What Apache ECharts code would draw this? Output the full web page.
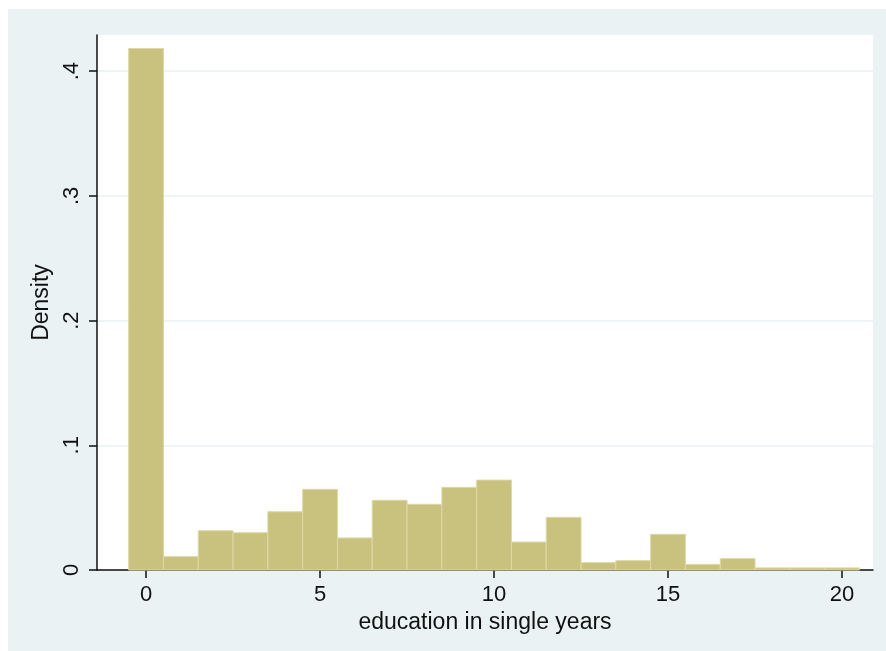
<!DOCTYPE html>
<html>
<head>
<meta charset="utf-8">
<script src="https://cdn.jsdelivr.net/npm/echarts@6/dist/echarts.min.js"></script>
<style>
html,body{margin:0;padding:0;background:#fff;}
#chart{width:886px;height:651px;}
</style>
</head>
<body>
<div id="chart"></div>
<script>
// Histogram bins (centers) and densities
const binCenters = [0,1,2,3,4,5,6,7,8,9,10,11,12,13,14,15,16,17,18,19,20];
const densities = [0.4182,0.0107,0.0315,0.0299,0.0467,0.0647,0.0257,0.0559,0.0527,0.0663,0.0721,0.0224,0.0422,0.0059,0.0075,0.0286,0.0045,0.0091,0.0017,0.0017,0.0017];
const binWidth = 1;
const xTicks = [0,5,10,15,20];
const yTicks = [0,0.1,0.2,0.3,0.4];
const xTitle = 'education in single years';
const yTitle = 'Density';

const chart = echarts.init(document.getElementById('chart'));
const FONT = '"Liberation Sans", Arial, sans-serif';
const data = binCenters.map((c, i) => [c, densities[i]]);

chart.setOption({
  animation: false,
  backgroundColor: '#ffffff',
  graphic: [{
    type: 'rect', z: -10, silent: true,
    shape: {x: 8, y: 9, width: 878, height: 642},
    style: {fill: '#EAF2F3'}
  }],
  grid: {
    left: 97, top: 35, right: 13, bottom: 81,
    show: true, backgroundColor: '#ffffff', borderWidth: 0
  },
  xAxis: {
    type: 'value', min: -1.41, max: 20.89,
    name: xTitle, nameLocation: 'middle', nameGap: 34,
    nameTextStyle: {fontFamily: FONT, fontSize: 23, color: '#111'},
    axisLine: {show: true, onZero: false, lineStyle: {color: '#111', width: 1.5}},
    axisTick: {show: true, length: 8, lineStyle: {color: '#111', width: 1.5}, customValues: xTicks},
    axisLabel: {fontFamily: FONT, fontSize: 22, color: '#111', margin: 14, customValues: xTicks},
    splitLine: {show: false}
  },
  yAxis: {
    type: 'value', min: 0, max: 0.429,
    name: yTitle, nameLocation: 'middle', nameGap: 39, nameRotate: 90,
    nameTextStyle: {fontFamily: FONT, fontSize: 23, color: '#111'},
    axisLine: {show: true, onZero: false, lineStyle: {color: '#111', width: 1.5}},
    axisTick: {show: true, length: 8, lineStyle: {color: '#111', width: 1.5}, customValues: yTicks},
    axisLabel: {
      fontFamily: FONT, fontSize: 22, color: '#111', rotate: 90, margin: 14,
      customValues: yTicks,
      formatter: v => v === 0 ? '0' : String(Math.round(v * 10) / 10).replace(/^0/, '')
    },
    splitLine: {show: true, lineStyle: {color: '#EAF2F3', width: 1.5}}
  },
  series: [{
    type: 'custom',
    data: data,
    renderItem: function (params, api) {
      const c = api.value(0), v = api.value(1);
      const p0 = api.coord([c - binWidth / 2, v]);
      const p1 = api.coord([c + binWidth / 2, 0]);
      return {
        type: 'rect',
        shape: {x: p0[0], y: p0[1], width: p1[0] - p0[0], height: p1[1] - p0[1]},
        style: {fill: '#C9C27F', stroke: '#DDD8A6', lineWidth: 1}
      };
    }
  }]
});
</script>
</body>
</html>
